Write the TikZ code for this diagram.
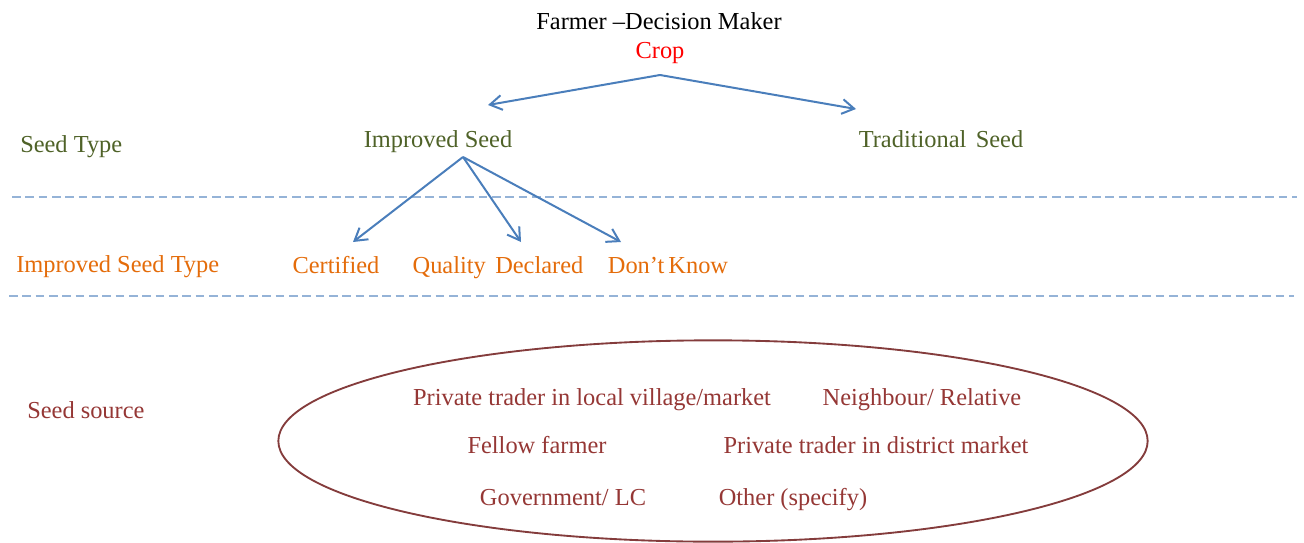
\documentclass[tikz,border=0pt]{standalone}
\usepackage{fontspec}
\setmainfont{Liberation Serif}
\usetikzlibrary{arrows.meta,shapes.geometric}

\definecolor{oliveText}{HTML}{4F6228}
\definecolor{orangeText}{HTML}{E46C0A}
\definecolor{sourceText}{HTML}{953735}
\definecolor{sourceLine}{HTML}{843C3C}
\definecolor{linkBlue}{HTML}{4A7EBB}
\definecolor{bandLine}{HTML}{95B3D7}

\tikzset{
  lbl/.style={inner sep=0pt, font=\fontsize{18.3}{22}\selectfont},
  rowlabel/.style={lbl, anchor=base west},
  item/.style={lbl, anchor=base},
  link/.style={draw=linkBlue, line width=1.5pt,
    -{Straight Barb[length=9pt, width=11pt, line width=1.5pt]}},
  band/.style={draw=bandLine, line width=1.1pt, dash pattern=on 6.5pt off 3.5pt},
}

\begin{document}
\begin{tikzpicture}[x=0.75pt, y=-0.75pt]
  \useasboundingbox (0,0) rectangle (1304,543);

  % header
  \node[item] (farmer) at (659,29) {Farmer –Decision Maker};
  \node[item, text=red] (crop) at (660,58) {Crop};

  % seed type row
  \node[rowlabel, text=oliveText] (seedtype) at (20,152) {Seed Type};
  \node[item, text=oliveText] (improved) at (438,147) {Improved Seed};
  \node[item, text=oliveText] (traditional) at (941,147) {Traditional\hspace{2.5pt} Seed};

  % improved seed type row
  \node[rowlabel, text=orangeText] (imptype) at (16,272) {Improved Seed Type};
  \node[item, text=orangeText] (certified) at (336,273) {Certified};
  \node[item, text=orangeText] (quality) at (498,273) {Quality\hspace{2.5pt} Declared};
  \node[item, text=orangeText] (dontknow) at (668,273) {Don’t\,Know};

  % band separators
  \coordinate (bandAL) at (12,197);
  \coordinate (bandAR) at (1297,197);
  \coordinate (bandBL) at (9,296);
  \coordinate (bandBR) at (1294,296);
  \draw[band] (bandAL) -- (bandAR);
  \draw[band] (bandBL) -- (bandBR);

  % branching from the crop
  \coordinate (cropfork) at (660,75);
  \coordinate (toImproved) at (488,105);
  \coordinate (toTraditional) at (856,109);
  \draw[link] (cropfork) -- (toImproved);
  \draw[link] (cropfork) -- (toTraditional);

  % branching from improved seed
  \coordinate (impfork) at (463,157);
  \coordinate (toCertified) at (353,242);
  \coordinate (toQuality) at (521,242);
  \coordinate (toDontknow) at (621,242);
  \draw[link] (impfork) -- (toCertified);
  \draw[link] (impfork) -- (toQuality);
  \draw[link] (impfork) -- (toDontknow);

  % seed sources
  \node[rowlabel, text=sourceText] (seedsource) at (27,418) {Seed source};
  \node[ellipse, draw=sourceLine, line width=1.4pt, inner sep=0pt,
        minimum width=652pt, minimum height=151pt] (sources) at (713,441) {};
  \node[item, text=sourceText] (srcLocal) at (592,405) {Private trader in local village/market};
  \node[item, text=sourceText] (srcNeighbour) at (922,405) {Neighbour/ Relative};
  \node[item, text=sourceText] (srcFellow) at (537,453) {Fellow farmer};
  \node[item, text=sourceText] (srcDistrict) at (876,453) {Private trader in district market};
  \node[item, text=sourceText] (srcGov) at (563,505) {Government/ LC};
  \node[item, text=sourceText] (srcOther) at (793,505) {Other (specify)};
\end{tikzpicture}
\end{document}
